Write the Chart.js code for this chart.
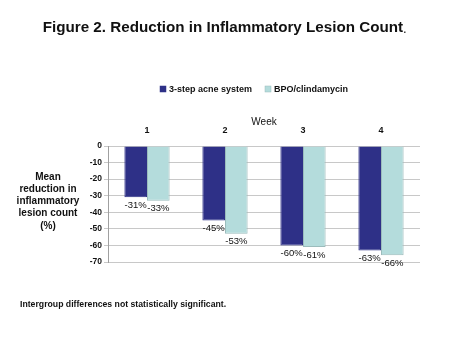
<!DOCTYPE html>
<html>
<head>
<meta charset="utf-8">
<script src="https://cdn.jsdelivr.net/npm/chart.js@4"></script>
<style>
  html, body { margin: 0; padding: 0; background: #fff; }
  #wrap { width: 450px; height: 338px; }
</style>
</head>
<body>
<div id="wrap"><canvas id="chartLesion"></canvas></div>
<script>
const weeks = ["1", "2", "3", "4"];
const acneSystem = [-31, -45, -60, -63];
const bpoClinda = [-33, -53, -61, -66];
const seriesNames = ["3-step acne system", "BPO/clindamycin"];
const yTicks = [0, -10, -20, -30, -40, -50, -60, -70];

const FONT = "'Liberation Sans', Arial, sans-serif";
const colorDark = "#2e3087";
const colorLight = "#b4dcdc";

// text bits drawn around the plot
const extras = {
    id: "extras",
    afterDraw(c) {
        const ctx = c.ctx;
        ctx.save();
        ctx.fillStyle = "#111";
        ctx.textBaseline = "middle";

        // title
        ctx.font = "bold 15.2px " + FONT;
        const t = "Figure 2. Reduction in Inflammatory Lesion Count";
        const tw = ctx.measureText(t).width;
        ctx.font = "15.2px " + FONT;
        const pw = ctx.measureText(".").width;
        let x0 = 225 - (tw + pw) / 2;
        ctx.font = "bold 15.2px " + FONT;
        ctx.textAlign = "left";
        ctx.fillText(t, x0, 28);
        ctx.font = "13px " + FONT;
        ctx.fillText(".", x0 + tw, 29);

        // legend
        ctx.font = "bold 9px " + FONT;
        const items = [
            { x: 160, color: colorDark, border: colorDark, text: seriesNames[0] },
            { x: 265, color: colorLight, border: "#9bbcbc", text: seriesNames[1] }
        ];
        items.forEach(it => {
            ctx.fillStyle = it.color;
            ctx.fillRect(it.x, 86, 6, 6);
            ctx.strokeStyle = it.border;
            ctx.lineWidth = 0.5;
            ctx.strokeRect(it.x, 86, 6, 6);
            ctx.fillStyle = "#111";
            ctx.fillText(it.text, it.x + 9, 89.5);
        });

        // y title
        ctx.font = "bold 10px " + FONT;
        ctx.textAlign = "center";
        ["Mean", "reduction in", "inflammatory", "lesion count", "(%)"].forEach((l, i) => {
            ctx.fillText(l, 48, 177 + i * 12.2);
        });

        // footnote
        ctx.font = "bold 8.7px " + FONT;
        ctx.textAlign = "left";
        ctx.fillText("Intergroup differences not statistically significant.", 20, 305);

        // value labels under each bar
        ctx.font = "9.5px " + FONT;
        ctx.textAlign = "center";
        c.data.datasets.forEach((ds, di) => {
            c.getDatasetMeta(di).data.forEach((bar, i) => {
                ctx.fillText(ds.data[i] + "%", bar.x, bar.y + 8);
            });
        });
        ctx.restore();
    }
};

new Chart(document.getElementById("chartLesion").getContext("2d"), {
    type: "bar",
    data: {
        labels: weeks,
        datasets: [
            {
                label: seriesNames[0],
                data: acneSystem,
                backgroundColor: colorDark,
                borderColor: colorDark,
                borderWidth: 1
            },
            {
                label: seriesNames[1],
                data: bpoClinda,
                backgroundColor: colorLight,
                borderColor: "#9bbcbc",
                borderWidth: 1
            }
        ]
    },
    options: {
        responsive: true,
        maintainAspectRatio: false,
        animation: false,
        datasets: { bar: { barPercentage: 1, categoryPercentage: 0.58 } },
        layout: { padding: { left: 78, right: 30, top: 116, bottom: 76 } },
        plugins: {
            legend: { display: false },
            title: { display: false },
            tooltip: { enabled: false }
        },
        scales: {
            x: {
                position: "top",
                grid: { display: false },
                border: { display: false },
                ticks: { color: "#111", font: { family: FONT, size: 9, weight: "bold" }, padding: 2 },
                title: { display: true, text: "Week", color: "#111", font: { family: FONT, size: 10 }, padding: 0 },
                afterFit(s) { s.height = 30; }
            },
            y: {
                min: -70,
                max: 0,
                afterBuildTicks(s) { s.ticks = yTicks.map(v => ({ value: v })); },
                grid: { color: "#c8c8c8", tickLength: 4, lineWidth: 1 },
                border: { color: "#a0a0a0" },
                ticks: { color: "#111", font: { family: FONT, size: 8.5, weight: "bold" }, padding: 2 },
                afterFit(s) { s.width = 30; }
            }
        }
    },
    plugins: [extras]
});
</script>
</body>
</html>
